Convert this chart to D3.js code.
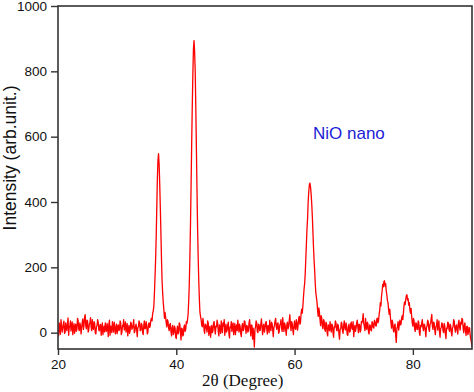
<!DOCTYPE html>
<html>
<head>
<meta charset="utf-8">
<script src="https://cdn.jsdelivr.net/npm/d3@7/dist/d3.min.js"></script>
<style>
  html, body { margin: 0; padding: 0; background: #fff; }
  svg { display: block; }
</style>
</head>
<body>
<svg id="chart" width="474" height="392"></svg>
<script>
// ---- data ----
const angleStart = 20;      // 2θ of first sample
const angleStep = 0.1;      // 2θ spacing of samples
const intensity = [
  8, -10, 30, 14, -5, 40, 22, 2, 12, 26, 35, -2, 0, 30, 18, 6, 28, 45, -8, 16,
  20, 36, 5, 24, 33, -6, 14, 28, -2, 18, 26, 4, 10, 44, 38, 12, 6, 30, 21, -4,
  15, 32, 42, 10, 24, 48, 55, 20, 12, 38, 36, 2, 8, 26, 30, 46, 18, 6, 40, 14,
  10, 34, 28, 0, -4, 18, 22, 40, 32, 8, 6, 24, 25, -8, 14, 30, -6, 12, 20, 2,
  30, 10, 4, 28, 18, -12, 26, 38, -8, 20, 16, 0, 34, 14, 2, 32, 20, -4, 12, 26,
  -3, 16, 24, 6, 10, 36, 30, -6, 0, 22, 19, 40, 8, 14, 33, 2, 14, 28, -10, 12,
  22, -2, 6, 32, 28, 10, 15, 24, 40, 0, 4, 20, 26, 8, -12, 16, 18, 36, 30, 6,
  8, 28, 24, 0, -6, 22, 36, 12, 14, 34, 20, -4, 2, 26, 30, 16, 22, 38, 44, 36,
  58, 66, 80, 118, 168, 222, 290, 380, 470, 528, 548, 515, 455, 385, 305, 225, 158, 120, 92, 70,
  44, 62, 48, 30, 18, 40, 34, 14, 6, 24, 28, 2, -10, 16, 22, -6, 0, 20, 14, -14,
  -18, 8, 20, -4, 2, 30, 26, 0, -22, 14, 12, -10, -6, 18, 24, 4, 10, 34, 28, 40,
  58, 96, 150, 232, 330, 448, 575, 690, 790, 868, 894, 860, 800, 690, 565, 440, 322, 232, 160, 104,
  62, 50, 40, 22, 18, 44, 30, 8, -2, 26, 24, 12, 2, 36, 30, -8, 10, 20, -14, 6,
  22, 0, 6, 28, 34, 12, -4, 20, 18, 38, 28, 4, -10, 24, 14, -2, 36, 16, 0, 30,
  20, 40, -8, 10, 26, 2, 8, 24, 32, -4, -16, 18, 16, 34, 4, 22, 30, -6, 12, 28,
  -6, 14, 24, 6, 38, 18, 2, 26, 18, -4, -12, 20, 28, 6, 10, 36, 34, 14, -2, 22,
  20, 2, 6, 30, 40, 12, -10, 24, 22, -20, 14, -8, -44, 10, 18, 36, 30, 4, 0, 26,
  24, 6, 8, 28, 42, 16, -6, 20, 26, 2, 12, 30, 34, 10, -4, 22, 20, 0, 38, 14,
  6, 32, 28, 8, -12, 16, 22, 36, 44, 18, 10, 28, 30, -2, 2, 24, 26, 40, 14, 4,
  46, 20, 4, 30, 24, 8, -8, 26, 32, 12, 18, 38, 55, 24, 6, 34, 28, 10, -6, 22,
  36, 14, 10, 40, 30, 8, 24, 44, 50, 26, 30, 58, 72, 60, 80, 108, 132, 150, 180, 226,
  272, 318, 350, 400, 432, 452, 458, 446, 424, 395, 358, 310, 262, 222, 190, 150, 120, 108, 92, 66,
  50, 76, 64, 40, 22, 52, 44, 18, 12, 40, 36, 10, 4, 32, 28, 0, -10, 24, 20, 6,
  34, 14, 2, 26, 24, 0, -14, 18, 16, 36, 30, 8, 6, 26, 22, -4, -20, 10, 12, 32,
  28, 6, -2, 22, 36, 14, 8, 30, 18, -6, -8, 20, 26, 2, 4, 28, 32, 12, 10, 34,
  -12, 10, 22, 4, 14, 30, 38, 16, 0, 26, 24, 2, 8, 34, 30, 40, 58, 28, 20, 6,
  44, 18, 10, 32, 28, 2, -4, 24, 22, 8, 6, 34, 30, 16, 14, 38, 34, 22, 20, 42,
  44, 30, 36, 56, 70, 92, 82, 112, 126, 148, 140, 156, 159, 142, 150, 128, 116, 98, 92, 70,
  56, 72, 48, 30, 14, 38, 30, 6, 2, 24, 26, -10, -30, 12, 20, 34, 8, 22, 38, 24,
  26, 44, 52, 40, 60, 82, 94, 86, 102, 114, 116, 100, 104, 84, 92, 70, 60, 74, 50, 30,
  20, 44, 36, 12, 4, 30, 28, 10, 10, 36, 32, 0, -8, 22, 18, 30, 40, 14, 6, 26,
  24, 8, -12, 16, 20, 38, 34, 12, 4, 26, 28, 44, 56, 20, 10, 32, 30, 8, -6, 18,
  22, 40, 8, 24, 36, 4, -14, 12, 16, 30, 26, 6, 0, 28, 20, -4, -18, 14, 12, 32,
  30, 10, 4, 26, 22, 0, -10, 14, 18, 40, 34, 12, 2, 20, 24, 6, -4, 30, 38, 16,
  8, 32, 26, 44, 40, 14, 0, 22, 30, 4, -8, 18, 20, -6, 2, 16, 14, -10, -20, -30,
  -42
];
const xTicks = [20, 40, 60, 80];
const yTicks = [0, 200, 400, 600, 800, 1000];
const xDomain = [20, 90];
const yDomain = [-50, 1000];
const xTitle = "2θ (Degree)";
const yTitle = "Intensity (arb.unit.)";
const annotation = "NiO nano";

// ---- layout ----
const svg = d3.select("#chart");
const L = 58, R = 472, T = 6, B = 349;

const x = d3.scaleLinear().domain(xDomain).range([L, R]);
const y = d3.scaleLinear().domain(yDomain).range([B, T]);

const points = intensity.map((v, i) => ({ a: angleStart + i * angleStep, v }));

svg.append("defs").append("clipPath").attr("id", "plotclip")
  .append("rect").attr("x", L).attr("y", T).attr("width", R - L).attr("height", B - T);

// data line
svg.append("path")
  .datum(points)
  .attr("clip-path", "url(#plotclip)")
  .attr("fill", "none")
  .attr("stroke", "#ff0000")
  .attr("stroke-width", 1.3)
  .attr("stroke-linejoin", "round")
  .attr("d", d3.line().x(d => x(d.a)).y(d => y(d.v)));

// frame
svg.append("rect")
  .attr("x", L).attr("y", T).attr("width", R - L).attr("height", B - T)
  .attr("fill", "none").attr("stroke", "#333").attr("stroke-width", 1.6);

// axes
const fontFam = "Arial, 'Liberation Sans', Helvetica, sans-serif";
const xAxis = svg.append("g").attr("transform", `translate(0,${B})`)
  .call(d3.axisBottom(x).tickValues(xTicks).tickSize(6).tickPadding(4).tickFormat(d3.format("d")));
const yAxis = svg.append("g").attr("transform", `translate(${L},0)`)
  .call(d3.axisLeft(y).tickValues(yTicks).tickSize(7).tickPadding(4).tickFormat(d3.format("d")));
[xAxis, yAxis].forEach(g => {
  g.select(".domain").remove();
  g.selectAll(".tick line").attr("stroke", "#333").attr("stroke-width", 1.4);
  g.selectAll(".tick text").attr("fill", "#111")
    .style("font-family", fontFam).style("font-size", "13.5px");
});

// titles
svg.append("text")
  .attr("x", 202).attr("y", 386)
  .style("font-family", "'Liberation Serif', 'Times New Roman', serif")
  .style("font-size", "17px").attr("fill", "#111")
  .text(xTitle);

svg.append("text")
  .attr("transform", `translate(16,158) rotate(-90)`)
  .attr("text-anchor", "middle")
  .style("font-family", fontFam)
  .style("font-size", "17.5px").attr("fill", "#111")
  .text(yTitle);

svg.append("text")
  .attr("x", 313).attr("y", 138.5)
  .style("font-family", fontFam)
  .style("font-size", "17px").attr("fill", "#1c1cd6")
  .text(annotation);
</script>
</body>
</html>
